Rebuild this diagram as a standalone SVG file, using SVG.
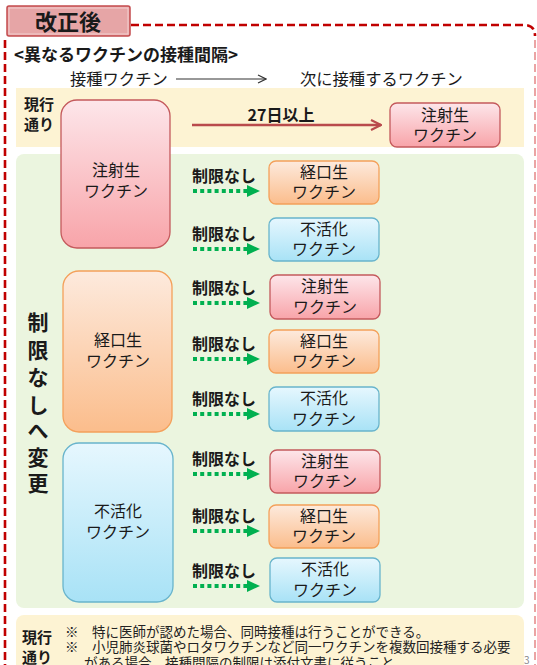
<svg xmlns="http://www.w3.org/2000/svg" width="537" height="665" viewBox="0 0 537 665">
<defs>
<linearGradient id="gPink" x1="0" y1="0" x2="0" y2="1"><stop offset="0" stop-color="#fde6ea"/><stop offset="1" stop-color="#f8a4a9"/></linearGradient>
<linearGradient id="gOrange" x1="0" y1="0" x2="0" y2="1"><stop offset="0" stop-color="#fdeadd"/><stop offset="1" stop-color="#fbbd8c"/></linearGradient>
<linearGradient id="gBlue" x1="0" y1="0" x2="0" y2="1"><stop offset="0" stop-color="#e6f7fe"/><stop offset="1" stop-color="#a8e2f6"/></linearGradient>
<marker id="redHead" viewBox="0 0 12 12" refX="11" refY="6" markerWidth="12" markerHeight="12" markerUnits="userSpaceOnUse" orient="auto">
<path d="M1,1 L11,6 L1,11" fill="none" stroke="#b94a4c" stroke-width="2.2"/>
</marker>
<marker id="thinHead" viewBox="0 0 10 10" refX="9" refY="5" markerWidth="10" markerHeight="10" markerUnits="userSpaceOnUse" orient="auto">
<path d="M1,1 L9,5 L1,9" fill="none" stroke="#333" stroke-width="1.2"/>
</marker>
</defs>
<style>
text{font-family:"Noto Sans CJK JP","Noto Sans",sans-serif;fill:#1a1a1a}
.b{font-weight:bold}
.c{text-anchor:middle}
.pink{fill:url(#gPink);stroke:#c4595c;stroke-width:1.3}
.orange{fill:url(#gOrange);stroke:#f4a05a;stroke-width:1.3}
.blue{fill:url(#gBlue);stroke:#68b4cc;stroke-width:1.3}
.big{font-size:16px}
.lbl{font-size:16px;font-weight:bold}
.dot{stroke:#00b050;stroke-width:4;stroke-dasharray:4 3.2;fill:none}
.tri{fill:#00b050}
.note{font-size:13.5px;fill:#222}
</style>
<rect width="537" height="665" fill="#fff"/>

<!-- outer dashed border -->
<g id="border">
<path d="M131,25 H524 Q535,25 535,36" fill="none" stroke="#c00000" stroke-width="2.6" stroke-dasharray="8 4"/>
<path d="M535,40 V665" fill="none" stroke="#eba4a4" stroke-width="2" stroke-dasharray="8 4"/>
<path d="M5,40 V665" fill="none" stroke="#c00000" stroke-width="2.6" stroke-dasharray="8 4"/>
</g>

<g id="title">
<rect x="7" y="6" width="123" height="30" rx="2" fill="#e6a5a6" stroke="#c44b4e" stroke-width="1.5"/>
<rect x="9" y="8" width="119" height="26" fill="none" stroke="#f3d0d0" stroke-width="1"/>
<text x="68" y="30" class="b c" style="font-size:22px">改正後</text>
</g>

<text x="14" y="61" class="b" style="font-size:17px">&lt;異なるワクチンの接種間隔&gt;</text>
<text x="70" y="85" style="font-size:16.3px">接種ワクチン</text>
<text x="300" y="85" style="font-size:16.3px">次に接種するワクチン</text>

<!-- bands -->
<rect x="16" y="88" width="508" height="59" fill="#fdf3d3"/>
<rect x="16" y="154" width="508" height="454" rx="8" fill="#ebf5df"/>
<rect x="16" y="615" width="508" height="60" rx="8" fill="#fdf3d3"/>

<text x="24" y="110" class="b" style="font-size:15px">現行</text>
<text x="24" y="130" class="b" style="font-size:15px">通り</text>

<g class="b c" style="font-size:21px">
<text x="38" y="330">制</text>
<text x="38" y="358">限</text>
<text x="38" y="385">な</text>
<text x="38" y="413">し</text>
<text x="38" y="438">へ</text>
<text x="38" y="465">変</text>
<text x="38" y="491">更</text>
</g>

<!-- connectors -->
<g id="connectors">
<line x1="176" y1="79" x2="266" y2="79" stroke="#333" stroke-width="1.2" marker-end="url(#thinHead)"/>
<line x1="192" y1="125" x2="381" y2="125" stroke="#b94a4c" stroke-width="2.6" marker-end="url(#redHead)"/>
<g>
<line x1="193" y1="191" x2="247" y2="191" class="dot"/><path d="M247,185 L260,191 L247,197Z" class="tri"/>
<line x1="193" y1="249" x2="247" y2="249" class="dot"/><path d="M247,243 L260,249 L247,255Z" class="tri"/>
<line x1="193" y1="303" x2="247" y2="303" class="dot"/><path d="M247,297 L260,303 L247,309Z" class="tri"/>
<line x1="193" y1="359" x2="247" y2="359" class="dot"/><path d="M247,353 L260,359 L247,365Z" class="tri"/>
<line x1="193" y1="414" x2="247" y2="414" class="dot"/><path d="M247,408 L260,414 L247,420Z" class="tri"/>
<line x1="193" y1="474" x2="247" y2="474" class="dot"/><path d="M247,468 L260,474 L247,480Z" class="tri"/>
<line x1="193" y1="531" x2="247" y2="531" class="dot"/><path d="M247,525 L260,531 L247,537Z" class="tri"/>
<line x1="193" y1="586" x2="247" y2="586" class="dot"/><path d="M247,580 L260,586 L247,592Z" class="tri"/>
</g>
<text x="281" y="121" class="lbl c">27日以上</text>
<g class="lbl">
<text x="192" y="182">制限なし</text>
<text x="192" y="240">制限なし</text>
<text x="192" y="294">制限なし</text>
<text x="192" y="350">制限なし</text>
<text x="192" y="405">制限なし</text>
<text x="192" y="465">制限なし</text>
<text x="192" y="522">制限なし</text>
<text x="192" y="577">制限なし</text>
</g>
</g>

<!-- big source nodes -->
<g id="src-inj">
<rect x="61" y="100" width="109" height="148" rx="16" class="pink"/>
<text x="116" y="176" class="big c">注射生</text>
<text x="116" y="197" class="big c">ワクチン</text>
</g>
<g id="src-oral">
<rect x="63" y="271" width="109" height="161" rx="16" class="orange"/>
<text x="118" y="346" class="big c">経口生</text>
<text x="118" y="367" class="big c">ワクチン</text>
</g>
<g id="src-inact">
<rect x="63" y="443" width="110" height="159" rx="16" class="blue"/>
<text x="118" y="517" class="big c">不活化</text>
<text x="118" y="538" class="big c">ワクチン</text>
</g>

<!-- target nodes -->
<g id="t0"><rect x="390" y="103" width="110" height="44" rx="7" class="pink"/><text x="445" y="121" class="big c">注射生</text><text x="445" y="141" class="big c">ワクチン</text></g>
<g id="t1"><rect x="269" y="161" width="110" height="43" rx="7" class="orange"/><text x="324" y="178" class="big c">経口生</text><text x="324" y="198" class="big c">ワクチン</text></g>
<g id="t2"><rect x="269" y="218" width="110" height="43" rx="7" class="blue"/><text x="324" y="235" class="big c">不活化</text><text x="324" y="255" class="big c">ワクチン</text></g>
<g id="t3"><rect x="270" y="275" width="110" height="44" rx="7" class="pink"/><text x="325" y="292" class="big c">注射生</text><text x="325" y="313" class="big c">ワクチン</text></g>
<g id="t4"><rect x="269" y="330" width="110" height="43" rx="7" class="orange"/><text x="324" y="347" class="big c">経口生</text><text x="324" y="367" class="big c">ワクチン</text></g>
<g id="t5"><rect x="269" y="387" width="110" height="44" rx="7" class="blue"/><text x="324" y="404" class="big c">不活化</text><text x="324" y="425" class="big c">ワクチン</text></g>
<g id="t6"><rect x="270" y="450" width="110" height="43" rx="7" class="pink"/><text x="325" y="467" class="big c">注射生</text><text x="325" y="487" class="big c">ワクチン</text></g>
<g id="t7"><rect x="269" y="505" width="110" height="43" rx="7" class="orange"/><text x="324" y="522" class="big c">経口生</text><text x="324" y="542" class="big c">ワクチン</text></g>
<g id="t8"><rect x="270" y="558" width="110" height="44" rx="7" class="blue"/><text x="325" y="575" class="big c">不活化</text><text x="325" y="596" class="big c">ワクチン</text></g>

<!-- notes -->
<text x="22" y="643" class="b" style="font-size:15px">現行</text>
<text x="22" y="663" class="b" style="font-size:15px">通り</text>
<text x="65" y="637" class="note">※</text>
<text x="92" y="637" class="note">特に医師が認めた場合、同時接種は行うことができる。</text>
<text x="65" y="652" class="note">※</text>
<text x="92" y="652" class="note">小児肺炎球菌やロタワクチンなど同一ワクチンを複数回接種する必要</text>
<text x="84" y="668" class="note">がある場合、接種間隔の制限は添付文書に従うこと。</text>
<text x="524" y="664" style="font-size:10px;fill:#888">3</text>
</svg>
